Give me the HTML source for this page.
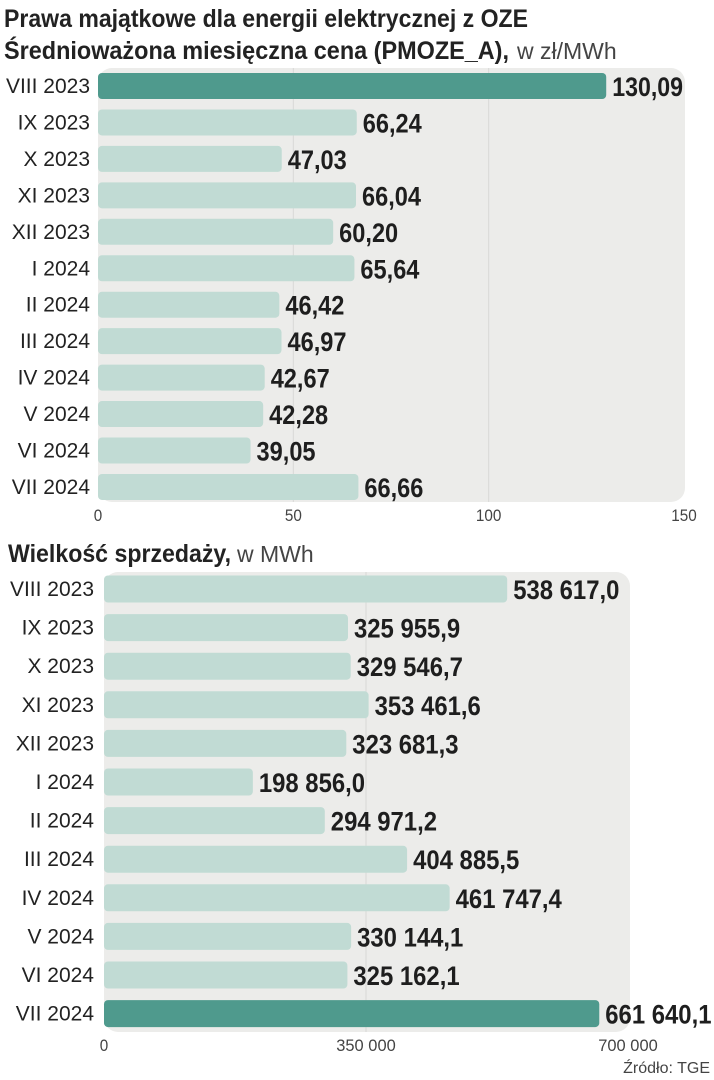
<!DOCTYPE html>
<html><head><meta charset="utf-8"><style>
html,body{margin:0;padding:0;background:#fff;}
svg{display:block;}
text{font-family:"Liberation Sans Narrow","Liberation Sans",sans-serif;}
</style></head><body>
<svg id="c" width="714" height="1080" viewBox="0 0 714 1080">
<text x="4" y="27" font-size="25" font-weight="bold" fill="#222" textLength="524" lengthAdjust="spacingAndGlyphs">Prawa majątkowe dla energii elektrycznej z OZE</text>
<text x="4" y="59" font-size="25" fill="#222"><tspan font-weight="bold" textLength="505" lengthAdjust="spacingAndGlyphs">Średnioważona miesięczna cena (PMOZE_A),</tspan><tspan font-size="23" fill="#444" dx="8">w  zł/MWh</tspan></text>
<text x="8" y="562" font-size="25" fill="#222"><tspan font-weight="bold" textLength="223" lengthAdjust="spacingAndGlyphs">Wielkość sprzedaży,</tspan><tspan font-size="23" fill="#444" dx="6">w MWh</tspan></text>
<text x="710" y="1073" font-size="16" fill="#444" text-anchor="end">Źródło: TGE</text>
<g id="g1"></g><g id="g2"></g>
</svg>
<script>
const categories=["VIII 2023","IX 2023","X 2023","XI 2023","XII 2023","I 2024","II 2024","III 2024","IV 2024","V 2024","VI 2024","VII 2024"];
const priceValues=[130.09,66.24,47.03,66.04,60.20,65.64,46.42,46.97,42.67,42.28,39.05,66.66];
const priceLabels=["130,09","66,24","47,03","66,04","60,20","65,64","46,42","46,97","42,67","42,28","39,05","66,66"];
const priceTicks=[0,50,100,150];
const priceTickLabels=["0","50","100","150"];
const volumeValues=[538617.0,325955.9,329546.7,353461.6,323681.3,198856.0,294971.2,404885.5,461747.4,330144.1,325162.1,661640.1];
const volumeLabels=["538 617,0","325 955,9","329 546,7","353 461,6","323 681,3","198 856,0","294 971,2","404 885,5","461 747,4","330 144,1","325 162,1","661 640,1"];
const volumeTicks=[0,350000,700000];
const volumeTickLabels=["0","350 000","700 000"];
const NS="http://www.w3.org/2000/svg";
function mk(p,t,a){const e=document.createElementNS(NS,t);for(const k in a)e.setAttribute(k,a[k]);p.appendChild(e);return e;}
function draw(g,o,vals,labs,ticks,tlabs,hi,prefix){
  const x=v=>o.x0+(v-o.min)/(o.max-o.min)*(o.x1-o.x0);
  const y=i=>o.y0+i*o.step;
  const panel=mk(g,'rect',{x:o.x0,y:o.py0,width:o.px1-o.x0,height:o.py1-o.py0,rx:14,fill:'#ececea'});
  
  
  ticks.forEach((t,i)=>{
    if(i>0&&i<ticks.length-1||(i===ticks.length-1&&x(t)<o.px1-5)){
      const l=mk(g,'line',{x1:x(t),x2:x(t),y1:o.py0,y2:o.py1,stroke:'#d9d9d7','stroke-width':1});
      
      
    }
    const tx=mk(g,'text',{x:x(t),y:o.ty,'font-size':17,fill:'#444','text-anchor':'middle',textLength:tlabs[i].length*8.5,lengthAdjust:'spacingAndGlyphs'});
    tx.textContent=tlabs[i];
    
    
  });
  vals.forEach((v,i)=>{
    const cy=y(i);
    const lb=mk(g,'text',{x:o.lx,y:cy+7,'font-size':21,fill:'#222','text-anchor':'end'});
    lb.textContent=categories[i];
    
    
    const b=mk(g,'rect',{x:o.x0,y:cy-o.bh/2,width:x(v)-o.x0,height:o.bh,rx:4,fill:i===hi?'#4f9a8d':'#c1dbd4'});
    
    
    const vt=mk(g,'text',{x:x(v)+6,y:cy+10,'font-size':27,'font-weight':'bold',fill:'#1e1e1e',textLength:labs[i].length*11.8,lengthAdjust:'spacingAndGlyphs'});
    vt.textContent=labs[i];
    
    
  });
}
draw(document.getElementById('g1'),{x0:98,x1:684,min:0,max:150,y0:86,step:36.45,bh:26,py0:68,py1:502,px1:685,lx:90,ty:521},priceValues,priceLabels,priceTicks,priceTickLabels,0,'price');
draw(document.getElementById('g2'),{x0:104,x1:628,min:0,max:700000,y0:589,step:38.6,bh:27,py0:572,py1:1032,px1:630,lx:94,ty:1051},volumeValues,volumeLabels,volumeTicks,volumeTickLabels,11,'volume');
</script>
</body></html>
